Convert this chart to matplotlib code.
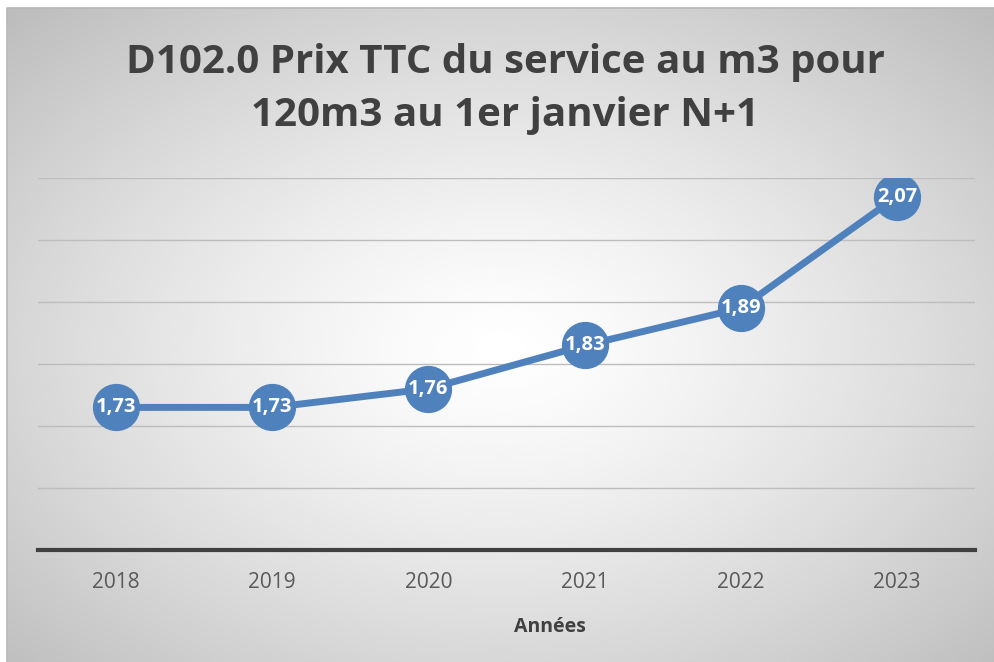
import matplotlib.pyplot as plt
import numpy as np

years = ["2018", "2019", "2020", "2021", "2022", "2023"]
prix = [1.73, 1.73, 1.76, 1.83, 1.89, 2.07]
labels = ["1,73", "1,73", "1,76", "1,83", "1,89", "2,07"]

W, H = 995, 662
fig = plt.figure(figsize=(W / 100, H / 100), dpi=100)
fig.patch.set_facecolor("white")

# fond dégradé radial (blanc au centre, gris sur les bords)
bg = fig.add_axes([7 / W, 0, 1 - 7 / W, 1 - 8 / H])
bg.set_axis_off()
yy, xx = np.mgrid[0:1:400j, 0:1:600j]
r = np.sqrt(((xx - 0.5) / 0.62) ** 2 + ((yy - 0.52) / 0.62) ** 2)
r = np.clip(r / 1.15, 0, 1)
shade = 1.0 - 0.26 * r ** 1.3
bg.imshow(shade, cmap="gray", vmin=0, vmax=1, aspect="auto",
          extent=[0, 1, 0, 1], interpolation="bicubic")
bg.plot([0, 0, 1], [0, 1, 1], color="#b8b8b8", lw=1.2, transform=bg.transAxes, clip_on=False)

font = "Open Sans"
ax = fig.add_axes([38 / W, 1 - 550 / H, (975 - 38) / W, (550 - 178) / H])
ax.patch.set_alpha(0)
x = np.arange(len(years))
ax.plot(x, prix, color="#4F81BD", lw=5, marker="o", markersize=33,
        solid_capstyle="round", zorder=3)
for xi, yi, lab in zip(x, prix, labels):
    ax.text(xi, yi, lab, ha="center", va="center", color="white",
            fontsize=14.5, fontweight="bold", family=font, zorder=4)

ax.set_xlim(-0.5, len(years) - 0.5)
ax.set_ylim(1.5, 2.1)
ax.set_yticks(np.arange(1.6, 2.11, 0.1))
ax.yaxis.grid(True, color="#bdbdbd", lw=1)
ax.tick_params(axis="y", left=False, labelleft=False)
ax.set_xticks(x)
ax.set_xticklabels(years, fontsize=15, color="#595959", family=font)
ax.tick_params(axis="x", length=0, pad=16)
for s in ["top", "right", "left"]:
    ax.spines[s].set_visible(False)
ax.spines["bottom"].set_color("#404040")
ax.spines["bottom"].set_linewidth(3)

fig.text(550 / W, 1 - 627 / H, "Années", ha="center", va="center", fontsize=14,
         fontweight="bold", color="#404040", family=font)

fig.text(505 / W, 1 - 89 / H, "D102.0 Prix TTC du service au m3 pour\n120m3 au 1er janvier N+1",
         ha="center", va="center", fontsize=29, fontweight="bold", color="#404040",
         family=font, linespacing=1.45)

fig.savefig("out.png", dpi=100)
